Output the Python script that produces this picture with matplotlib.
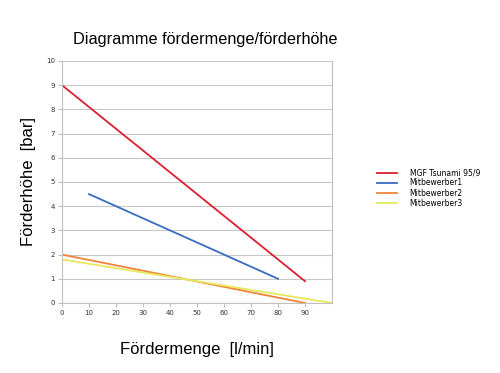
import matplotlib.pyplot as plt

# data
series_names = ['MGF Tsunami 95/9', 'Mitbewerber1', 'Mitbewerber2', 'Mitbewerber3']
x_red = [0, 90]
y_red = [9, 0.9]
x_blue = [10, 80]
y_blue = [4.5, 1]
x_orange = [0, 90]
y_orange = [2, 0]
x_yellow = [0, 100]
y_yellow = [1.8, 0]
x_ticks = [0, 10, 20, 30, 40, 50, 60, 70, 80, 90]
y_ticks = [0, 1, 2, 3, 4, 5, 6, 7, 8, 9, 10]

colors = ['#dc1f2e', '#3a6bbf', '#f0843a', '#e8e85c']

fig = plt.figure(figsize=(5, 3.73), dpi=100)
ax = fig.add_axes([0.124, 0.1877, 0.54, 0.6488])

ax.plot(x_red, y_red, color=colors[0], lw=1.3, label=series_names[0])
ax.plot(x_blue, y_blue, color=colors[1], lw=1.3, label=series_names[1])
ax.plot(x_orange, y_orange, color=colors[2], lw=1.3, label=series_names[2])
ax.plot(x_yellow, y_yellow, color=colors[3], lw=1.3, label=series_names[3])

ax.set_xlim(0, 100)
ax.set_ylim(0, 10)
ax.set_xticks(x_ticks)
ax.set_yticks(y_ticks)
ax.tick_params(axis='both', labelsize=5, colors='#333333', length=3, width=0.6,
               color='#b0b0b0', pad=2)
ax.yaxis.grid(True, color='#c8c8c8', lw=0.8)
ax.set_axisbelow(True)
for side in ['left', 'right', 'bottom', 'top']:
    ax.spines[side].set_color('#c0c0c0')
    ax.spines[side].set_linewidth(0.8)
ax.spines['top'].set_visible(False)

ax.set_xlabel('Fördermenge  [l/min]', fontsize=12, family='Liberation Sans', labelpad=19)
ax.set_ylabel('Förderhöhe  [bar]', fontsize=12, family='Liberation Sans', labelpad=7)
fig.text(0.146, 0.893, 'Diagramme fördermenge/förderhöhe', fontsize=11.7,
         family='Liberation Sans', va='center')

ax.legend(loc='center left', bbox_to_anchor=(1.14, 0.475), frameon=False,
          fontsize=5.5, handlelength=2.7, handletextpad=1.6, labelspacing=0.15)

plt.savefig('out.png', dpi=100)
